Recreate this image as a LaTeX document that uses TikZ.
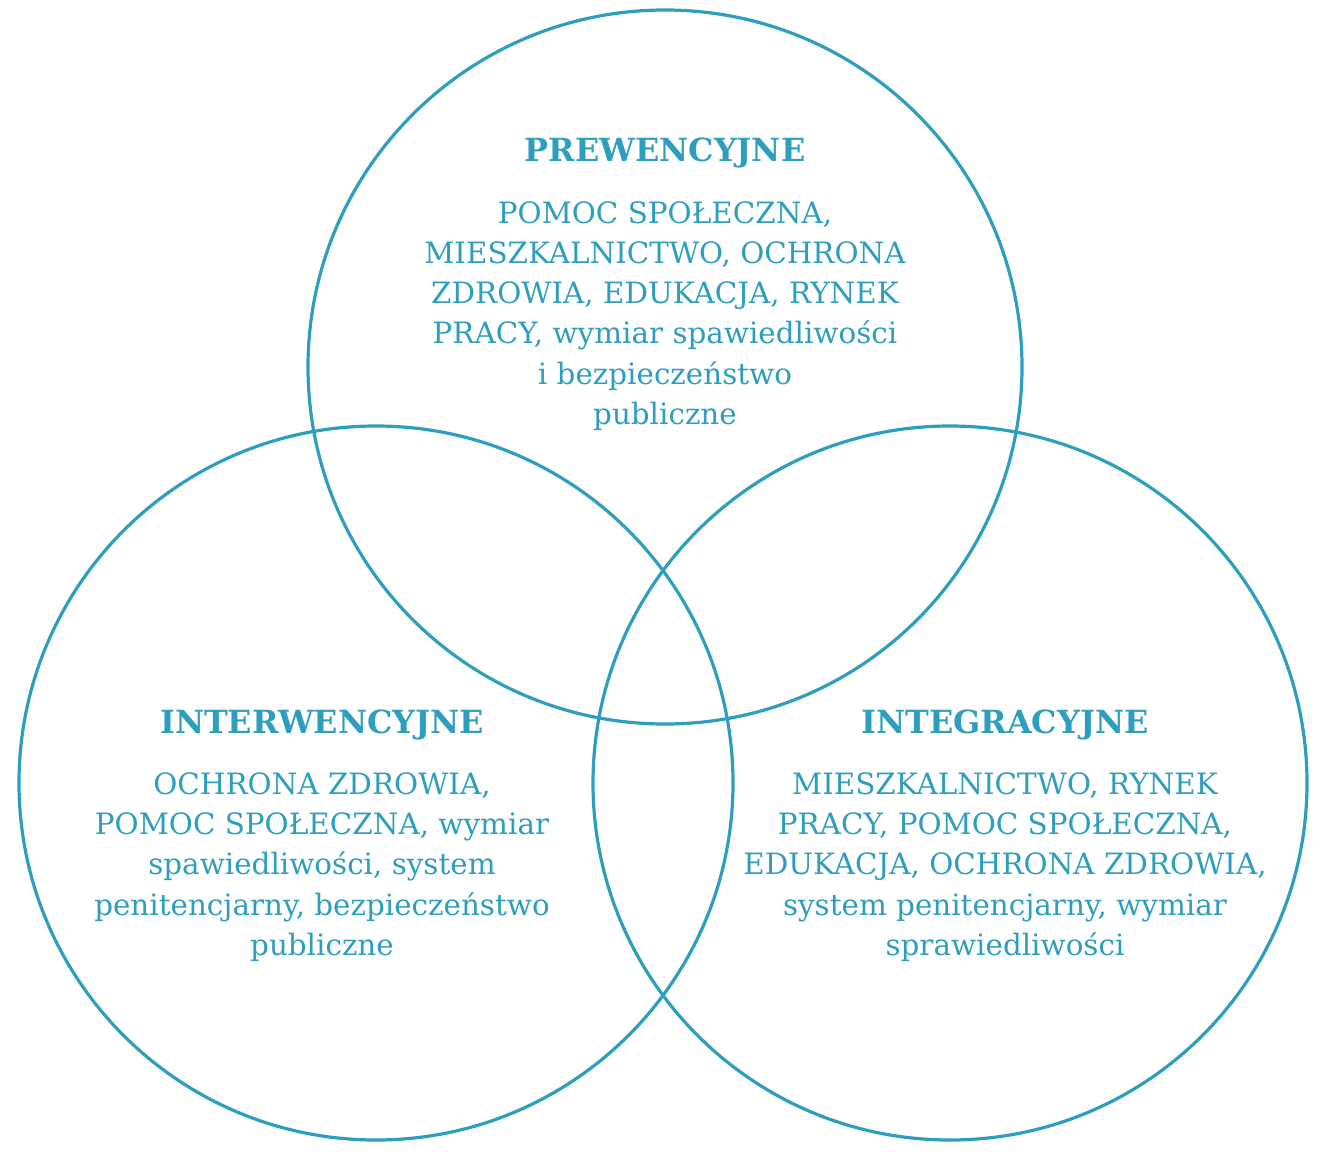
\documentclass[tikz,border=0pt]{standalone}
\usepackage{fontspec}
\setmainfont{DejaVu Serif}
\usepackage{tikz}
\usetikzlibrary{positioning}
\definecolor{vennblue}{RGB}{46,158,190}
\tikzset{
  ring/.style={draw=vennblue,line width=3.2bp,circle,minimum size=714bp,inner sep=0pt},
  head/.style={text=vennblue,font=\fontsize{32}{38}\selectfont\bfseries,inner sep=0pt},
  body/.style={text=vennblue,align=center,font=\fontsize{29.5}{40.3}\selectfont,inner sep=0pt}
}
\begin{document}
\begin{tikzpicture}
\useasboundingbox (0bp,0bp) rectangle (1333bp,-1157bp);
\node (P) at (665bp,-367bp)[ring] {};
\node (I) at (376bp,-783bp)[ring] {};
\node (G) at (950bp,-783bp)[ring] {};
\node (Phead) at (665bp,-153bp)[head] {PREWENCYJNE};
\node (Pbody) at (665bp,-316bp)[body] {POMOC SPOŁECZNA,\\ MIESZKALNICTWO, OCHRONA\\ ZDROWIA, EDUKACJA, RYNEK\\ PRACY, wymiar spawiedliwości\\ i bezpieczeństwo\\ publiczne};
\node (Ihead) at (322bp,-725bp)[head] {INTERWENCYJNE};
\node (Ibody) at (322bp,-867bp)[body] {OCHRONA ZDROWIA,\\ POMOC SPOŁECZNA, wymiar\\ spawiedliwości, system\\ penitencjarny, bezpieczeństwo\\ publiczne};
\node (Ghead) at (1005bp,-725bp)[head] {INTEGRACYJNE};
\node (Gbody) at (1005bp,-867bp)[body] {MIESZKALNICTWO, RYNEK\\ PRACY, POMOC SPOŁECZNA,\\ EDUKACJA, OCHRONA ZDROWIA,\\ system penitencjarny, wymiar\\ sprawiedliwości};
\end{tikzpicture}
\end{document}
